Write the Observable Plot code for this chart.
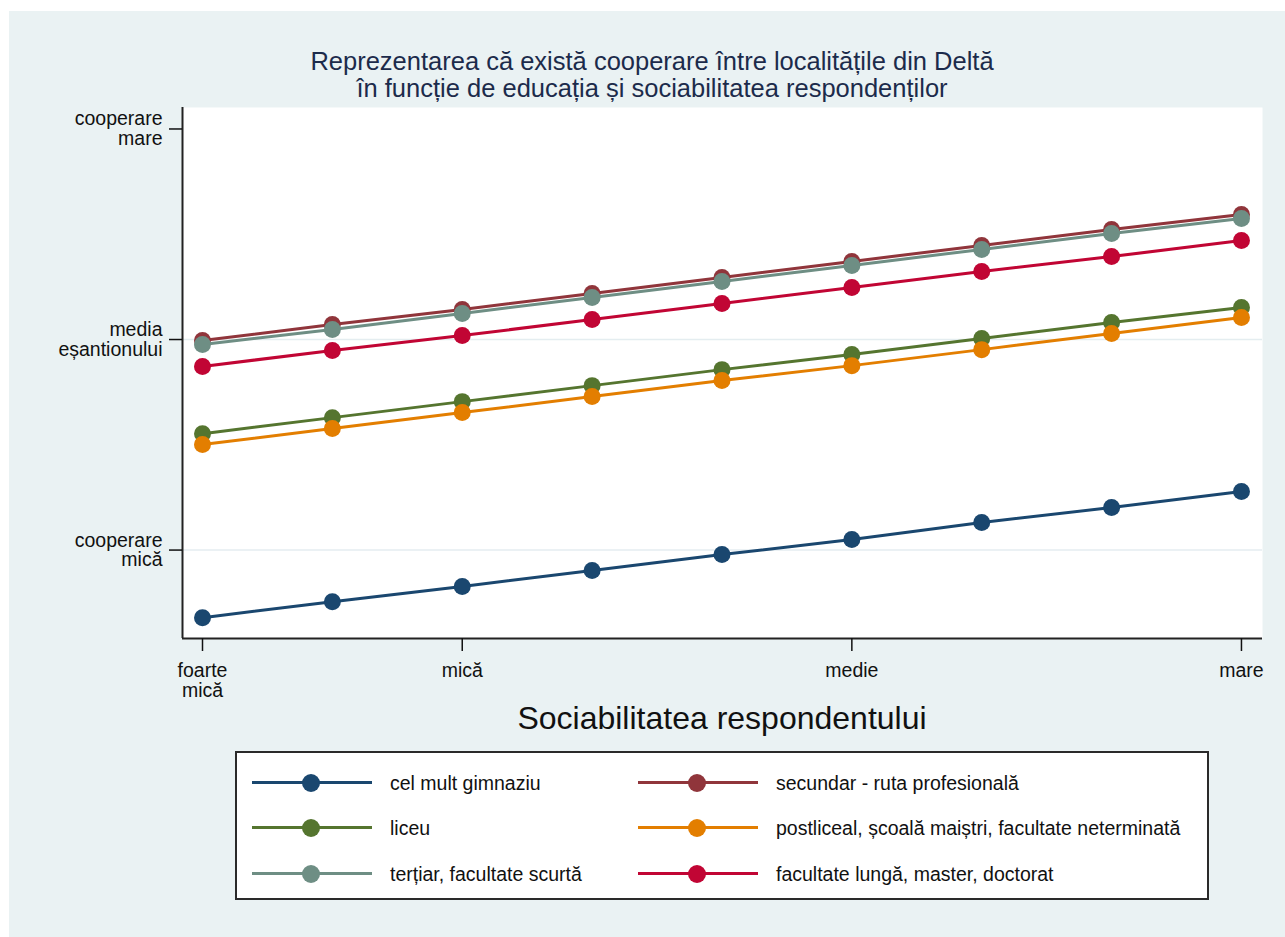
<!DOCTYPE html>
<html><head><meta charset="utf-8">
<script src="https://cdn.jsdelivr.net/npm/d3@7"></script>
<script src="https://cdn.jsdelivr.net/npm/@observablehq/plot@0.6"></script>
<style>
body{margin:0;background:#fff;font-family:"Liberation Sans",Arial,sans-serif;}
#page{position:relative;width:1285px;height:937px;overflow:hidden;}
#bg{position:absolute;left:9px;top:11px;right:0;bottom:0;background:#eaf2f3;}
#title{position:absolute;left:0;width:1304px;top:48px;text-align:center;font-size:25.5px;line-height:27px;color:#1c2b4b;}
#chart{position:absolute;left:0;top:100px;}
#xtitle{position:absolute;left:182px;width:1080px;top:699px;text-align:center;font-size:32px;line-height:38px;color:#111;}
#legend{position:absolute;left:235px;top:751px;width:970px;height:145px;border:2px solid #2a2a2a;background:#fff;}
.item{position:absolute;height:22px;}
.item .ln{position:absolute;left:15px;width:120px;top:9px;height:3px;}
.item .mk{position:absolute;left:65px;top:2px;width:18px;height:18px;border-radius:50%;}
.item .tx{position:absolute;left:153px;top:0;white-space:nowrap;font-size:19.5px;line-height:22px;color:#111;}
</style>
</head>
<body>
<div id="page">
  <div id="bg"></div>
  <div id="title">Reprezentarea că există cooperare între localitățile din Deltă<br>în funcție de educația și sociabilitatea respondenților</div>
  <div id="chart"></div>
  <div id="xtitle">Sociabilitatea respondentului</div>
  <div id="legend"></div>
</div>
<script>
// Sociability levels (x positions 1..9)
const levels = [1, 2, 3, 4, 5, 6, 7, 8, 9];
const xTickValues = [1, 3, 6, 9];
const xTickLabels = ["foarte\nmică", "mică", "medie", "mare"];
const yTickValues = [-1, 0, 1];
const yTickLabels = ["cooperare\nmică", "media\neșantionului", "cooperare\nmare"];
const gridValues = [-1, 0];

const seriesNames = [
  "cel mult gimnaziu",
  "secundar - ruta profesională",
  "liceu",
  "postliceal, școală maiștri, facultate neterminată",
  "terțiar, facultate scurtă",
  "facultate lungă, master, doctorat"
];
const seriesColors = ["#1a476f", "#90353b", "#55752f", "#e37e00", "#6e8e84", "#c10534"];

const gimnaziu   = [-1.321, -1.245, -1.173, -1.097, -1.021, -0.950, -0.869, -0.798, -0.722];
const secundar   = [-0.005, 0.071, 0.143, 0.219, 0.295, 0.371, 0.447, 0.523, 0.594];
const liceu      = [-0.447, -0.371, -0.295, -0.219, -0.143, -0.071, 0.005, 0.081, 0.152];
const postliceal = [-0.499, -0.423, -0.347, -0.271, -0.195, -0.124, -0.048, 0.029, 0.105];
const tertiar    = [-0.024, 0.048, 0.124, 0.200, 0.276, 0.352, 0.428, 0.504, 0.575];
const facultate  = [-0.128, -0.052, 0.019, 0.095, 0.171, 0.247, 0.323, 0.394, 0.470];
const seriesValues = [gimnaziu, secundar, liceu, postliceal, tertiar, facultate];

const xDomain = [0.846, 9.162];
const yDomain = [-1.42, 1.102];

const rowsBySeries = seriesNames.map((name, i) =>
  levels.map((lv, j) => ({series: name, x: lv, y: seriesValues[i][j]})));

const seriesMarks = rowsBySeries.flatMap(rows => [
  Plot.line(rows, {x: "x", y: "y", stroke: "series", strokeWidth: 3}),
  Plot.dot(rows, {x: "x", y: "y", fill: "series", r: 8.5})
]);

const chart = Plot.plot({
  width: 1285, height: 600,
  marginLeft: 182, marginRight: 23, marginTop: 7, marginBottom: 62,
  style: {background: "transparent", fontFamily: "'Liberation Sans', Arial, sans-serif", fontSize: "19.5px", color: "#111", overflow: "visible"},
  x: {domain: xDomain},
  y: {domain: yDomain},
  color: {domain: seriesNames, range: seriesColors},
  marks: [
    Plot.frame({fill: "white", stroke: null}),
    Plot.ruleY(gridValues, {stroke: "#e4edf0", strokeWidth: 1.5}),
    Plot.ruleX([xDomain[0]], {stroke: "#222", strokeWidth: 2}),
    Plot.ruleY([yDomain[0]], {stroke: "#222", strokeWidth: 2}),
    ...seriesMarks,
    Plot.axisX({ticks: xTickValues, tickFormat: d => xTickLabels[xTickValues.indexOf(d)], tickSize: 13, tickPadding: 12, strokeWidth: 1.5, label: null}),
    Plot.axisY({ticks: yTickValues, tickFormat: d => yTickLabels[yTickValues.indexOf(d)], tickSize: 13, tickPadding: 7, strokeWidth: 1.5, label: null})
  ]
});
document.getElementById("chart").appendChild(chart);

// Legend (row-major, two columns)
const legend = document.getElementById("legend");
const rowTops = [19, 64, 110];
const colLefts = [0, 386];
seriesNames.forEach((name, i) => {
  const item = document.createElement("div");
  item.className = "item";
  item.style.top = rowTops[Math.floor(i / 2)] + "px";
  item.style.left = colLefts[i % 2] + "px";
  item.innerHTML = `<div class="ln" style="background:${seriesColors[i]}"></div><div class="mk" style="background:${seriesColors[i]}"></div><div class="tx">${name}</div>`;
  legend.appendChild(item);
});
</script>
</body></html>
